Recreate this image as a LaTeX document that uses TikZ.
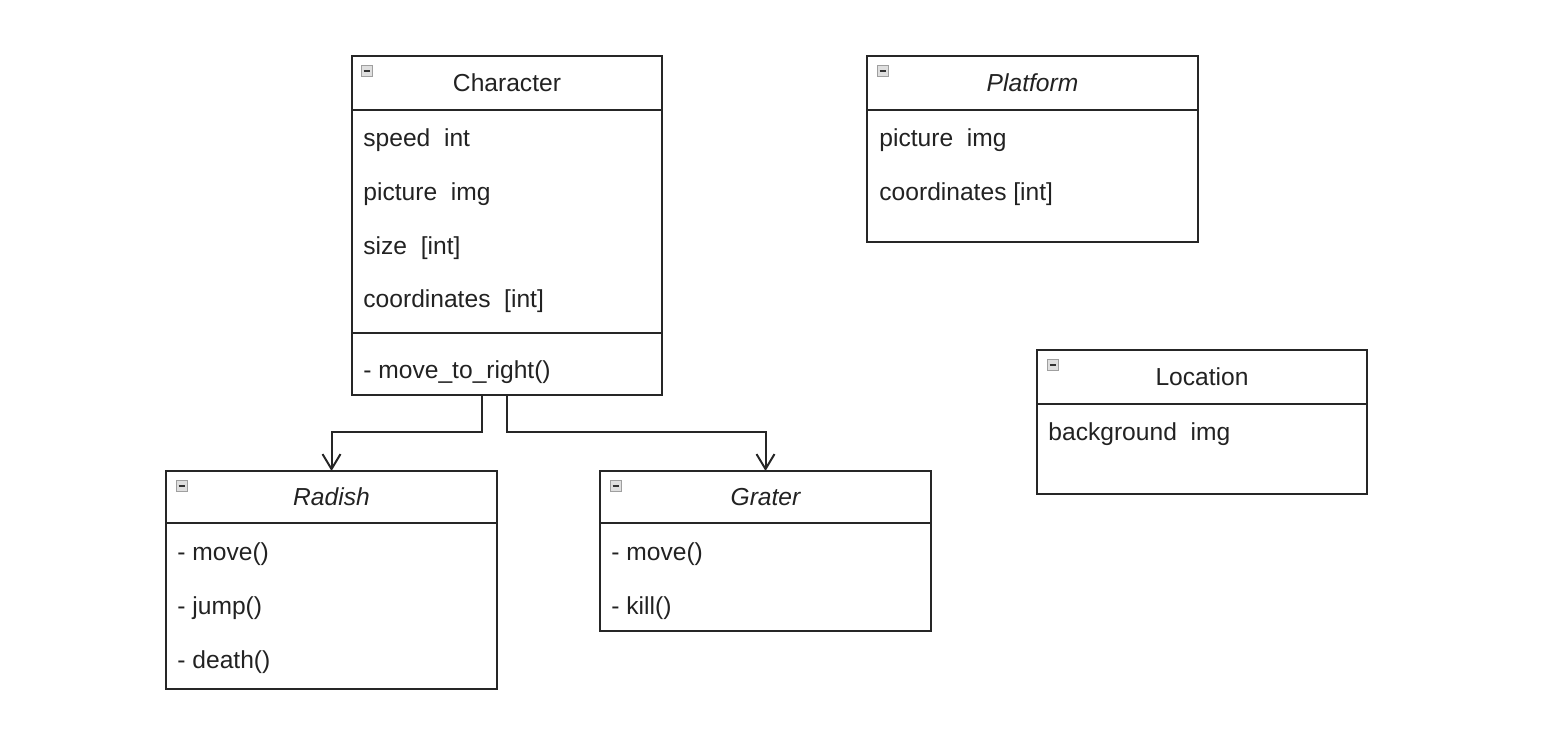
\documentclass[tikz,border=0pt]{standalone}
\usepackage{fontspec}
\setmainfont{Liberation Sans}
\usepackage{tikz}
\usetikzlibrary{positioning}
\usetikzlibrary{arrows.meta}
\definecolor{linecol}{HTML}{262626}
\definecolor{textcol}{HTML}{222222}
\newcommand{\umlfont}{\fontsize{12.3}{14}\selectfont}

\begin{document}
\begin{tikzpicture}[x=0.5pt,y=-0.5pt,
  classhead/.style={draw=linecol, line width=1pt, text=textcol, font=\umlfont,
    minimum height=27pt, text height=11pt, text depth=2.5pt, inner sep=0pt, outer sep=0pt},
  classbody/.style={draw=linecol, line width=1pt, inner sep=0pt, outer sep=0pt},
  member/.style={anchor=west, inner sep=0pt, text=textcol, font=\umlfont,
    text height=11pt, text depth=2.5pt},
  minusicon/.style={draw=gray!75, fill=gray!25, line width=0.4pt, minimum size=5.2pt,
    inner sep=0pt, path picture={
  \draw[line width=1.2pt, black!80] ([xshift=0.9pt]path picture bounding box.west) --
  ([xshift=-0.9pt]path picture bounding box.east); }},
  inherit/.style={draw=linecol, line width=1pt, -{Straight Barb[length=7.5pt,width=9pt]}}]
\useasboundingbox (0,0) rectangle (1560,743);

% Character
\node (charHead) [classhead, minimum width=155pt] at (507,83) {Character};
\node (charAttr) [classbody, minimum width=155pt, minimum height=111.5pt, below=0pt of charHead] {};
\node (charOps) [classbody, minimum width=155pt, minimum height=31pt, below=0pt of charAttr] {};
\node (charIcon) [minusicon] at (367,71) {};
\node (speed) [member] at (363,138) {speed\ \ int};
\node (charPic) [member] at (363,192) {picture\ \ img};
\node (size) [member] at (363,246) {size\ \ [int]};
\node (charCoord) [member] at (363,299) {coordinates\ \ [int]};
\node (moveRight) [member] at (363,370) {- move\_to\_right()};

% Platform
\node (platHead) [classhead, minimum width=165.5pt] at (1032.5,83) {\itshape Platform};
\node (platBody) [classbody, minimum width=165.5pt, minimum height=66pt, below=0pt of platHead] {};
\node (platIcon) [minusicon] at (883,71) {};
\node (platPic) [member] at (879,138) {picture\ \ img};
\node (platCoord) [member] at (879,192) {coordinates [int]};

% Location
\node (locHead) [classhead, minimum width=165pt] at (1202,377) {Location};
\node (locBody) [classbody, minimum width=165pt, minimum height=45pt, below=0pt of locHead] {};
\node (locIcon) [minusicon] at (1053,365) {};
\node (backgr) [member] at (1048,432) {background\ \ img};

% Radish
\node (radishHead) [classhead, minimum width=165.5pt, minimum height=26pt] at (331.5,497) {\itshape Radish};
\node (radishBody) [classbody, minimum width=165.5pt, minimum height=83pt, below=0pt of radishHead] {};
\node (radishIcon) [minusicon] at (182,486) {};
\node (radishMove) [member] at (177,552) {- move()};
\node (jump) [member] at (177,606) {- jump()};
\node (death) [member] at (177,660) {- death()};

% Grater
\node (graterHead) [classhead, minimum width=165.5pt, minimum height=26pt] at (765.5,497) {\itshape Grater};
\node (graterBody) [classbody, minimum width=165.5pt, minimum height=54pt, below=0pt of graterHead] {};
\node (graterIcon) [minusicon] at (616,486) {};
\node (graterMove) [member] at (611,552) {- move()};
\node (kill) [member] at (611,606) {- kill()};

% inheritance
\draw [inherit] ([xshift=-12.5pt]charOps.south) -- ++(0,37) -| (radishHead.north);
\draw [inherit] (charOps.south) -- ++(0,37) -| (graterHead.north);

\end{tikzpicture}
\end{document}
